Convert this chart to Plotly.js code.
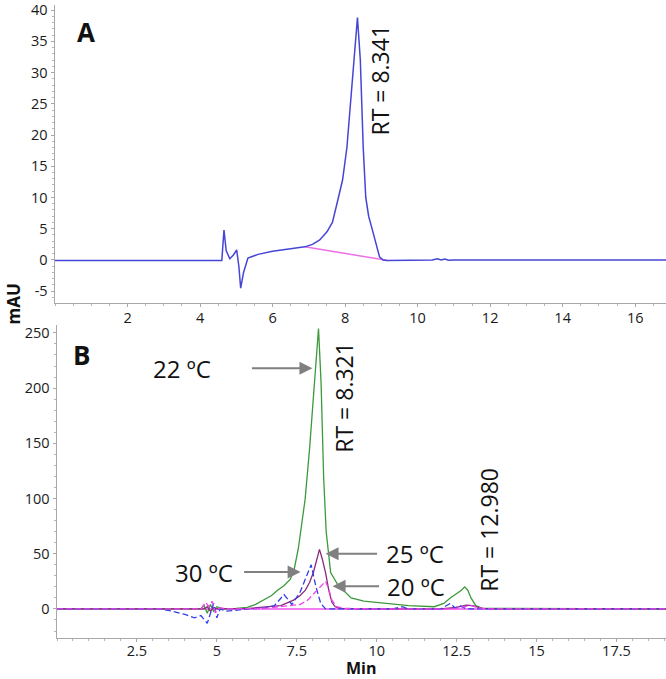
<!DOCTYPE html>
<html>
<head>
<meta charset="utf-8">
<script src="https://cdn.plot.ly/plotly-3.0.1.min.js"></script>
<style>
  body { margin: 0; background: #fff; }
  #chart { width: 666px; height: 679px; }
</style>
</head>
<body>
<div id="chart"></div>
<script>
// Panel A chromatogram (min, mAU)
const timeA = [0, 2, 4.6, 4.66, 4.72, 4.82, 4.92, 5.01, 5.07, 5.12, 5.2, 5.32, 5.6, 6.0, 6.5, 6.89, 7.1, 7.3, 7.5, 7.65, 7.8, 7.93, 8.05, 8.15, 8.25, 8.341, 8.42, 8.5, 8.57, 8.65, 8.73, 8.85, 8.95, 9.05, 9.15, 10.4, 10.55, 10.65, 10.75, 10.85, 11, 16.85];
const signalA = [-0.1, -0.1, -0.1, 4.8, 1.5, 0.2, 0.8, 1.6, -1, -4.5, -2, 0.3, 0.9, 1.4, 1.8, 2.1, 2.5, 3.2, 4.5, 6, 9.6, 12.8, 18, 25, 33, 38.8, 32, 18, 10, 7, 5.3, 2.5, 0.5, 0, -0.1, 0, 0.2, 0, 0.15, -0.05, 0, 0];
const baseA_t = [6.89, 9.15];
const baseA_v = [2.1, -0.05];

// Panel B chromatograms
const time22 = [0, 3.0, 4.5, 4.6, 4.7, 4.8, 4.9, 5.0, 5.2, 5.6, 5.95, 6.2, 6.46, 6.7, 6.9, 7.1, 7.3, 7.42, 7.55, 7.65, 7.76, 7.9, 8.0, 8.1, 8.18, 8.26, 8.34, 8.42, 8.5, 8.56, 8.78, 9.2, 9.6, 10.2, 11.0, 11.8, 12.1, 12.3, 12.5, 12.65, 12.75, 12.85, 12.95, 13.1, 13.3, 19.05];
const signal22 = [0, 0, 0, 3, -4, 4, -2, 2, 0, 0.5, 1.5, 4, 8, 12, 17, 21, 27, 36, 55, 75, 99, 145, 185, 225, 254, 205, 120, 70, 45, 33, 22, 10, 7, 5, 3, 2, 5, 10, 14, 17, 20, 17, 10, 3, 0.5, 0];

const time25 = [0, 4.6, 4.7, 4.8, 4.9, 5.0, 6.0, 6.5, 7.0, 7.4, 7.6, 7.77, 7.9, 8.02, 8.12, 8.21, 8.3, 8.4, 8.5, 8.6, 8.7, 8.85, 9.5, 12.0, 12.5, 12.8, 13.0, 13.3, 13.6, 19.05];
const signal25 = [0, 0, 2, -2, 1, 0, 0.5, 1.5, 3, 8, 12, 17, 24, 33, 45, 54, 45, 33, 17, 6, 2, 0.5, 0, 0, 1.5, 3.5, 3, 0.5, 0, 0];

const time30 = [0, 3.2, 3.6, 4.0, 4.3, 4.5, 4.7, 4.8, 4.9, 5.0, 5.1, 5.3, 5.6, 6.0, 6.5, 6.8, 7.1, 7.35, 7.6, 7.8, 7.95, 8.1, 8.25, 8.4, 10.5, 10.8, 11.0, 12.0, 12.3, 12.45, 12.6, 12.8, 13.0, 19.05];
const signal30 = [0, 0, -2, -5, -8, -6, -13, -3, 5, -8, 0, -2, -1, 0, 1, 3, 13, 4, 15, 30, 40, 20, 5, 0, 0, 2, 0, 0, 5, 1, 3, 0, 0, 0];

const time20 = [0, 4.5, 4.65, 4.75, 4.85, 4.95, 5.1, 5.4, 6.5, 7.0, 7.4, 7.6, 7.84, 8.1, 8.25, 8.4, 8.5, 8.6, 8.75, 9.0, 10, 12.4, 12.7, 12.95, 13.2, 13.5, 19.05];
const signal20 = [0, 0, 6, 2, 7, -3, 1, 0, 0.5, 2, 3, 4, 8, 16, 20, 25, 18, 8, 2, 0.5, 0, 0, 2, 3, 1, 0, 0];

const baseB_t = [0, 19.05];
const baseB_v = [0, 0];

// Tick labels
const ticksA_x = [2, 4, 6, 8, 10, 12, 14, 16];
const ticksB_x = [2.5, 5, 7.5, 10, 12.5, 15, 17.5];
const ticksB_xText = ['2.5', '5', '7.5', '10', '12.5', '15', '17.5'];
const ticksA_y = [-5, 0, 5, 10, 15, 20, 25, 30, 35, 40];
const ticksA_yText = ['-5', '0', '5', '10', '15', '20', '25', '30', '35', '40'];

const traces = [
  { x: baseA_t, y: baseA_v, xaxis: 'x', yaxis: 'y', mode: 'lines',
    line: { color: '#ee6fe6', width: 1.5 } },
  { x: timeA, y: signalA, xaxis: 'x', yaxis: 'y', mode: 'lines',
    line: { color: '#4545d6', width: 1.5 } },
  { x: baseB_t, y: baseB_v, xaxis: 'x2', yaxis: 'y2', mode: 'lines',
    line: { color: '#ee55ee', width: 1.5 } },
  { x: time22, y: signal22, xaxis: 'x2', yaxis: 'y2', mode: 'lines',
    line: { color: '#3c9a3c', width: 1.3 } },
  { x: time25, y: signal25, xaxis: 'x2', yaxis: 'y2', mode: 'lines',
    line: { color: '#8a2a7e', width: 1.3 } },
  { x: time30, y: signal30, xaxis: 'x2', yaxis: 'y2', mode: 'lines',
    line: { color: '#2f3fe6', width: 1.3, dash: '6px,3px' } },
  { x: time20, y: signal20, xaxis: 'x2', yaxis: 'y2', mode: 'lines',
    line: { color: '#ee44ee', width: 1.3, dash: '6px,3px' } },
];

const axisStyle = {
  showline: true, linecolor: '#a8a8a8', linewidth: 1.5,
  showgrid: false, zeroline: false,
  ticks: 'outside', ticklen: 3, tickcolor: '#a8a8a8',
  tickfont: { size: 14.5, color: '#1a1a1a' },
};

const tempFont = { family: 'Open Sans, sans-serif', size: 24, color: '#111' };
const rtFont = { family: 'Open Sans, sans-serif', size: 23, color: '#111' };
const arrowStyle = { showarrow: true, arrowhead: 2, arrowsize: 1.3, arrowwidth: 2, arrowcolor: '#808080', text: '' };

const layout = {
  width: 666,
  height: 679,
  margin: { l: 0, r: 0, t: 0, b: 0 },
  showlegend: false,
  paper_bgcolor: '#fff',
  plot_bgcolor: '#fff',
  font: { family: 'Open Sans, sans-serif', color: '#1a1a1a' },
  xaxis: Object.assign({}, axisStyle, {
    domain: [0.0826, 1], anchor: 'y', range: [0, 16.85],
    tickvals: ticksA_x, ticklabelstandoff: -2,
    minor: { dtick: 0.5, ticks: 'outside', ticklen: 2, tickcolor: '#b5b5b5' },
  }),
  yaxis: Object.assign({}, axisStyle, {
    domain: [0.5538, 0.9926], anchor: 'x', range: [-6.88, 40.8],
    tickvals: ticksA_y, ticktext: ticksA_yText,
    minor: { dtick: 1, ticks: 'outside', ticklen: 2, tickcolor: '#b5b5b5' },
  }),
  xaxis2: Object.assign({}, axisStyle, {
    domain: [0.0856, 1], anchor: 'y2', range: [0, 19.05],
    tickvals: ticksB_x, ticktext: ticksB_xText, ticklabelstandoff: -4,
    minor: { dtick: 0.5, ticks: 'outside', ticklen: 2, tickcolor: '#b5b5b5' },
  }),
  yaxis2: Object.assign({}, axisStyle, {
    domain: [0.0604, 0.5214], anchor: 'x2', range: [-26.3, 257.2],
    dtick: 50,
    minor: { dtick: 10, ticks: 'outside', ticklen: 2, tickcolor: '#b5b5b5' },
  }),
  annotations: [
    // panel letters
    { xref: 'x', yref: 'y', x: 0.85, y: 36.5, text: '<b>A</b>', showarrow: false,
      font: { family: 'Open Sans, sans-serif', size: 26, color: '#111' } },
    { xref: 'x2', yref: 'y2', x: 0.78, y: 230, text: '<b>B</b>', showarrow: false,
      font: { family: 'Open Sans, sans-serif', size: 26, color: '#111' } },
    // retention times
    { xref: 'x', yref: 'y', x: 8.95, y: 28.8, text: 'RT = 8.341', textangle: -90, showarrow: false, font: rtFont },
    { xref: 'x2', yref: 'y2', x: 8.97, y: 192, text: 'RT = 8.321', textangle: -90, showarrow: false, font: rtFont },
    { xref: 'x2', yref: 'y2', x: 13.51, y: 71.6, text: 'RT = 12.980', textangle: -90, showarrow: false, font: rtFont },
    // temperature labels
    { xref: 'x2', yref: 'y2', x: 3.92, y: 218, text: '22 ºC', showarrow: false, font: tempFont },
    { xref: 'x2', yref: 'y2', x: 11.19, y: 50, text: '25 ºC', showarrow: false, font: tempFont },
    { xref: 'x2', yref: 'y2', x: 4.61, y: 32.6, text: '30 ºC', showarrow: false, font: tempFont },
    { xref: 'x2', yref: 'y2', x: 11.22, y: 20.5, text: '20 ºC', showarrow: false, font: tempFont },
    // arrows
    Object.assign({ xref: 'x2', yref: 'y2', x: 7.99, y: 218, ax: -62, ay: 0 }, arrowStyle),
    Object.assign({ xref: 'x2', yref: 'y2', x: 8.40, y: 50, ax: 53, ay: 0 }, arrowStyle),
    Object.assign({ xref: 'x2', yref: 'y2', x: 7.62, y: 33.5, ax: -58, ay: 0 }, arrowStyle),
    Object.assign({ xref: 'x2', yref: 'y2', x: 8.62, y: 20.5, ax: 48, ay: 0 }, arrowStyle),
    // axis titles
    { xref: 'paper', yref: 'paper', x: 0.021, y: 0.553, xanchor: 'center', yanchor: 'middle',
      text: '<b>mAU</b>', textangle: -90, showarrow: false,
      font: { family: 'Open Sans, sans-serif', size: 17, color: '#111' } },
    { xref: 'paper', yref: 'paper', x: 0.542, y: 0.0155, xanchor: 'center', yanchor: 'middle',
      text: '<b>Min</b>', showarrow: false,
      font: { family: 'Open Sans, sans-serif', size: 16, color: '#111' } },
  ],
};

Plotly.newPlot('chart', traces, layout, { displayModeBar: false, staticPlot: true });
</script>
</body>
</html>
